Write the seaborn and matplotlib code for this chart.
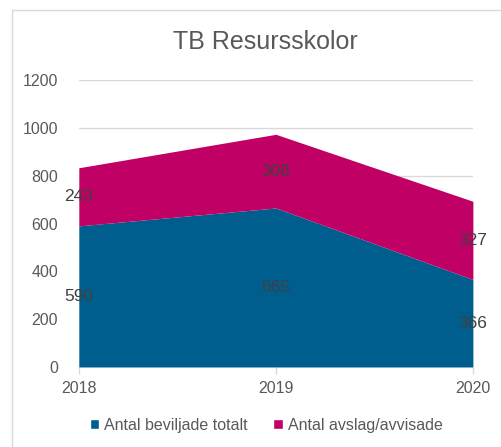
import matplotlib
matplotlib.use("Agg")
import matplotlib.pyplot as plt
import seaborn as sns
from matplotlib.patches import Patch, Rectangle

# data
years = [2018, 2019, 2020]
beviljade = [590, 665, 366]
avslag = [243, 308, 327]
series_names = ["Antal beviljade totalt", "Antal avslag/avvisade"]
colors = ["#005E8E", "#C00064"]

sns.set_theme(style="white")
plt.rcParams["font.family"] = ["Liberation Sans", "DejaVu Sans"]

fig = plt.figure(figsize=(5.02, 4.47), dpi=100)
ax = fig.add_axes([0.157, 0.179, 0.785, 0.642])

ax.stackplot(years, beviljade, avslag, colors=colors, labels=series_names,
             linewidth=0, zorder=2)

# value labels in the middle of each band
for x, b, a in zip(years, beviljade, avslag):
    ax.text(x, b / 2, str(b), ha="center", va="center", fontsize=12.5, color="#404040", zorder=3)
    ax.text(x, b + a / 2, str(a), ha="center", va="center", fontsize=12.5, color="#404040", zorder=3)

ax.set_xlim(2018, 2020)
ax.set_ylim(0, 1200)
ax.set_xticks(years)
ax.set_yticks(range(0, 1201, 200))
ax.yaxis.grid(True, color="#D9D9D9", linewidth=1, zorder=0)
ax.set_axisbelow(True)
for s in ax.spines.values():
    s.set_visible(False)
ax.tick_params(axis="y", length=0, pad=15, labelsize=11.5, labelcolor="#595959")
ax.tick_params(axis="x", length=5, width=1, color="#D9D9D9", pad=5,
               labelsize=11.5, labelcolor="#595959", bottom=True)

fig.text(0.528, 0.905, "TB Resursskolor", ha="center", va="center", fontsize=18, color="#595959")

handles = [Patch(facecolor=c, label=n) for c, n in zip(colors, series_names)]
fig.legend(handles=handles, loc="center", bbox_to_anchor=(0.53, 0.049), ncol=2, frameon=False,
           fontsize=11.5, labelcolor="#595959", handlelength=0.6, handleheight=0.6,
           handletextpad=0.3, columnspacing=1.6)

# chart frame (continues past right and bottom edge)
fig.patches.append(Rectangle((12 / 502, -0.1), 1.2, 1 - 10 / 447 + 0.1, transform=fig.transFigure,
                             fill=False, edgecolor="#D9D9D9", linewidth=1))

fig.savefig("out.png", dpi=100)
